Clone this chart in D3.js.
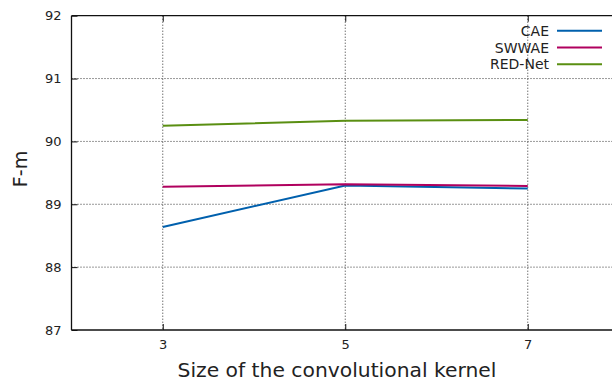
<!DOCTYPE html>
<html><head><meta charset="utf-8">
<script src="https://cdn.jsdelivr.net/npm/d3@7"></script>
<style>body{margin:0;background:#fff;overflow:hidden}svg{display:block}text{font-family:"DejaVu Sans",sans-serif;fill:#222}</style>
</head><body>
<svg id="c" width="612" height="382"></svg>
<script>
const kernels = [3, 5, 7];
const seriesNames = ["CAE", "SWWAE", "RED-Net"];
const cae = [88.64, 89.30, 89.25];
const swwae = [89.28, 89.32, 89.29];
const rednet = [90.25, 90.33, 90.34];
const yTicks = [87, 88, 89, 90, 91, 92];
const colors = ["#0060ad", "#b0005e", "#5a8f12"];
const xLabel = "Size of the convolutional kernel";
const yLabel = "F-m";

const svg = d3.select("#c");
const L = 71.5, T = 15.7, B = 330, R = 619;
const x = d3.scaleLinear().domain([2, 8]).range([L, R]);
const y = d3.scaleLinear().domain([87, 92]).range([B, T]);

// grid
const g = svg.append("g");
g.selectAll(".gy").data(yTicks.slice(1, -1)).enter().append("line")
  .attr("x1", L).attr("x2", R).attr("y1", d => y(d)).attr("y2", d => y(d))
  .attr("stroke", "#333").attr("stroke-width", 1).attr("stroke-dasharray", "1,2");
g.selectAll(".gx").data(kernels).enter().append("line")
  .attr("x1", d => x(d)).attr("x2", d => x(d)).attr("y1", T).attr("y2", B)
  .attr("stroke", "#333").attr("stroke-width", 1).attr("stroke-dasharray", "1,2");

// axes
const yAxis = d3.axisLeft(y).tickValues(yTicks).tickSize(-6).tickPadding(10).tickFormat(d3.format("d"));
const ya = svg.append("g").attr("transform", `translate(${L},0)`).call(yAxis);
const xAxis = d3.axisBottom(x).tickValues(kernels).tickSize(-6).tickPadding(10).tickFormat(d3.format("d"));
const xa = svg.append("g").attr("transform", `translate(0,${B})`).call(xAxis);
const xTop = d3.axisTop(x).tickValues(kernels).tickSize(-6).tickFormat("");
const xt = svg.append("g").attr("transform", `translate(0,${T})`).call(xTop);
[ya, xa, xt].forEach(a => {
  a.select(".domain").attr("stroke", "#111").attr("stroke-width", 1.3);
  a.selectAll(".tick line").attr("stroke", "#111");
  a.selectAll("text").style("font-family", '"DejaVu Sans",sans-serif').style("font-size", "13px").attr("fill", "#222");
});
ya.select(".domain").attr("d", `M0,${B}V${T}`);
xa.select(".domain").attr("d", `M${L},0H${R}`);
xt.select(".domain").attr("d", `M${L},0H${R}`);

// lines
const all = [cae, swwae, rednet];
const line = d3.line().x((d, i) => x(kernels[i])).y(d => y(d));
all.forEach((s, k) => {
  svg.append("path").datum(s).attr("d", line).attr("fill", "none")
    .attr("stroke", colors[k]).attr("stroke-width", 2);
});

// legend
seriesNames.forEach((n, k) => {
  const ly = 30.7 + k * 16.8;
  svg.append("line").attr("x1", 557).attr("x2", 602).attr("y1", ly).attr("y2", ly)
    .attr("stroke", colors[k]).attr("stroke-width", 2);
  svg.append("text").attr("x", 549).attr("y", ly + 5).attr("text-anchor", "end")
    .style("font-size", "14px").text(n);
});

// labels
svg.append("text").attr("x", 337).attr("y", 376.5).attr("text-anchor", "middle")
  .style("font-size", "20.3px").text(xLabel);
svg.append("text").attr("transform", "translate(27,169) rotate(-90)").attr("text-anchor", "middle")
  .style("font-size", "19px").text(yLabel);
</script>
</body></html>
